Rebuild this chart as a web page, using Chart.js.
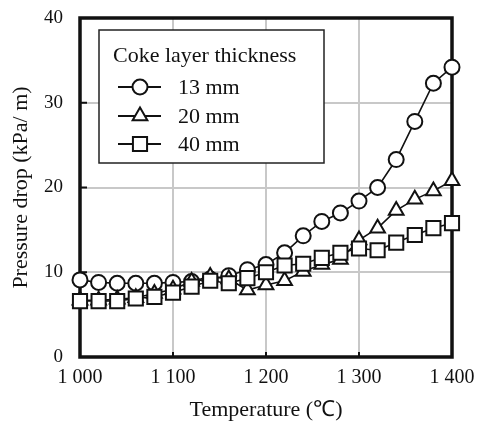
<!DOCTYPE html>
<html>
<head>
<meta charset="utf-8">
<script src="https://cdn.jsdelivr.net/npm/chart.js"></script>
<style>
  body { margin: 0; background: #fff; }
  #wrap { width: 478px; height: 423px; }
</style>
</head>
<body>
<div id="wrap"><canvas id="pressureChart"></canvas></div>
<script>
// data
const temps = [1000, 1020, 1040, 1060, 1080, 1100, 1120, 1140, 1160, 1180, 1200,
               1220, 1240, 1260, 1280, 1300, 1320, 1340, 1360, 1380, 1400];
const coke13 = [9.1, 8.8, 8.7, 8.7, 8.7, 8.8, 8.9, 9.2, 9.6, 10.3, 10.9,
                12.3, 14.3, 16.0, 17.0, 18.4, 20.0, 23.3, 27.8, 32.3, 34.2];
const coke20 = [6.7, 6.7, 6.8, 7.0, 7.5, 8.0, 8.9, 9.5, 9.2, 7.9, 8.5,
                9.0, 10.1, 10.9, 11.5, 13.8, 15.2, 17.3, 18.6, 19.6, 20.8];
const coke40 = [6.6, 6.6, 6.6, 6.9, 7.1, 7.6, 8.3, 9.0, 8.7, 9.3, 10.0,
                10.8, 11.0, 11.7, 12.3, 12.8, 12.6, 13.5, 14.4, 15.2, 15.8];
const seriesLabels = ['13 mm', '20 mm', '40 mm'];
const legendTitle = 'Coke layer thickness';
const xTicks = [1000, 1100, 1200, 1300, 1400];
const yTicks = [0, 10, 20, 30, 40];

const serif = 'Liberation Serif, Times New Roman, serif';

function pts(values) {
    return temps.map((t, i) => ({ x: t, y: values[i] }));
}

const markers = [
    { pointStyle: 'circle', pointRadius: 7.5 },
    { pointStyle: 'triangle', pointRadius: 8.5 },
    { pointStyle: 'rect', pointRadius: 10 }
];

// no automatic room for overflowing tick labels, layout padding decides
function noOverflow(scale) {
    scale.paddingTop = 0;
    scale.paddingBottom = 0;
    scale.paddingLeft = 0;
    scale.paddingRight = 0;
}

// frame, inward ticks and boxed legend
const framePlugin = {
    id: 'frame',
    beforeDatasetsDraw(chart) {
        const { ctx, chartArea: a, scales } = chart;
        ctx.save();
        ctx.strokeStyle = '#111';
        ctx.lineWidth = 2;
        xTicks.slice(1, -1).forEach(v => {
            const x = scales.x.getPixelForValue(v);
            ctx.beginPath(); ctx.moveTo(x, a.bottom); ctx.lineTo(x, a.bottom - 5); ctx.stroke();
        });
        yTicks.slice(1, -1).forEach(v => {
            const y = scales.y.getPixelForValue(v);
            ctx.beginPath(); ctx.moveTo(a.left, y); ctx.lineTo(a.left + 7, y); ctx.stroke();
        });
        ctx.lineWidth = 3.5;
        ctx.strokeRect(a.left, a.top, a.right - a.left, a.bottom - a.top);
        ctx.restore();
    },
    afterDraw(chart) {
        const ctx = chart.ctx;
        ctx.save();
        ctx.fillStyle = '#fff';
        ctx.fillRect(99, 30, 225, 133);
        ctx.strokeStyle = '#222';
        ctx.lineWidth = 1.5;
        ctx.strokeRect(99, 30, 225, 133);
        ctx.fillStyle = '#111';
        ctx.font = '22px ' + serif;
        ctx.textBaseline = 'alphabetic';
        ctx.fillText(legendTitle, 113, 61.5);
        const rows = [87, 116, 144];
        chart.data.datasets.forEach((ds, i) => {
            const y = rows[i];
            ctx.strokeStyle = '#111';
            ctx.lineWidth = 2;
            ctx.beginPath(); ctx.moveTo(118, y); ctx.lineTo(161, y); ctx.stroke();
            ctx.fillStyle = '#fff';
            Chart.helpers.drawPoint(ctx, {
                pointStyle: ds.pointStyle, radius: ds.pointRadius, rotation: 0, borderWidth: 2
            }, 140, y);
            ctx.fillStyle = '#111';
            ctx.fillText(ds.label, 178, y + 7);
        });
        ctx.restore();
    }
};

new Chart(document.getElementById('pressureChart'), {
    type: 'line',
    data: {
        datasets: [coke13, coke20, coke40].map((vals, i) => ({
            label: seriesLabels[i],
            data: pts(vals),
            borderColor: '#111',
            borderWidth: 1.6,
            backgroundColor: '#fff',
            pointBackgroundColor: '#fff',
            pointBorderColor: '#111',
            pointBorderWidth: 2,
            pointStyle: markers[i].pointStyle,
            pointRadius: markers[i].pointRadius,
            tension: 0,
            clip: false,
            order: 2 - i
        }))
    },
    options: {
        responsive: true,
        maintainAspectRatio: false,
        animation: false,
        layout: { padding: { top: 18, right: 26, left: 0, bottom: 0 } },
        plugins: {
            legend: { display: false },
            tooltip: { enabled: false }
        },
        scales: {
            x: {
                type: 'linear',
                min: 1000,
                max: 1400,
                afterFit(scale) { scale.height = 66; noOverflow(scale); },
                afterBuildTicks(scale) { scale.ticks = xTicks.map(v => ({ value: v })); },
                border: { display: false },
                grid: { color: '#c8c8c8', lineWidth: 2, drawTicks: false },
                ticks: {
                    padding: 9,
                    color: '#111',
                    font: { family: serif, size: 20 },
                    callback: v => String(v).replace(/(\d)(\d{3})$/, '$1 $2')
                },
                title: {
                    display: true,
                    text: 'Temperature (℃)',
                    color: '#111',
                    font: { family: serif, size: 22 },
                    padding: { top: 0, bottom: 0 }
                }
            },
            y: {
                min: 0,
                max: 40,
                afterFit(scale) { scale.width = 80; noOverflow(scale); },
                afterBuildTicks(scale) { scale.ticks = yTicks.map(v => ({ value: v })); },
                border: { display: false },
                grid: { color: '#c8c8c8', lineWidth: 2, drawTicks: false },
                ticks: {
                    padding: 17,
                    color: '#111',
                    font: { family: serif, size: 19 }
                },
                title: {
                    display: true,
                    text: 'Pressure drop (kPa/ m)',
                    color: '#111',
                    font: { family: serif, size: 22 },
                    padding: { top: 8, bottom: 0 }
                }
            }
        }
    },
    plugins: [framePlugin]
});
</script>
</body>
</html>
